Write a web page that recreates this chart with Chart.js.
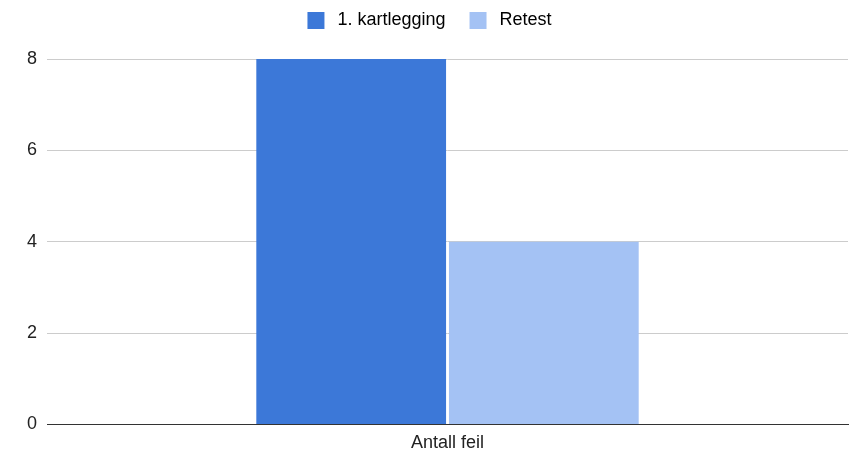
<!DOCTYPE html>
<html>
<head>
<meta charset="utf-8">
<script src="https://cdn.jsdelivr.net/npm/chart.js@4/dist/chart.umd.min.js"></script>
<style>
  html, body { margin: 0; padding: 0; background: #fff; }
  #wrap { width: 854px; height: 454px; }
</style>
</head>
<body>
<div id="wrap"><canvas id="chart" width="854" height="454"></canvas></div>
<script>
// Number of errors, first survey vs. retest
const categories = ['Antall feil'];
const kartlegging = [8];
const retest = [4];
const yTicks = [0, 2, 4, 6, 8];

Chart.defaults.font.family = '"Liberation Sans", Arial, sans-serif';
Chart.defaults.color = '#222';

// Extra space below the legend, and centre it on the canvas
const legendGap = {
  id: 'legendGap',
  beforeInit(chart) {
    const fit = chart.legend.fit;
    chart.legend.fit = function () {
      fit.call(this);
      this.height += 16;
    };
  },
  afterLayout(chart) {
    const lg = chart.legend;
    lg.left -= 5;
    lg.right -= 5;
    lg.adjustHitBoxes();
  }
};

new Chart(document.getElementById('chart'), {
  type: 'bar',
  data: {
    labels: categories,
    datasets: [
      { label: '1. kartlegging', data: kartlegging, backgroundColor: '#3c78d8',
        barPercentage: 0.985, categoryPercentage: 0.481 },
      { label: 'Retest', data: retest, backgroundColor: '#a4c2f4',
        barPercentage: 0.985, categoryPercentage: 0.481 }
    ]
  },
  options: {
    responsive: false,
    animation: false,
    layout: { padding: { left: 17, right: 6, top: -12, bottom: -8 } },
    plugins: {
      legend: {
        position: 'top',
        labels: {
          boxWidth: 25, boxHeight: 25, padding: 20, font: { size: 18 }, color: '#222',
          // white outline trims the swatch to a 17px square and widens the text gap
          generateLabels(chart) {
            return chart.data.datasets.map((ds, i) => ({
              text: ds.label,
              fillStyle: ds.backgroundColor,
              strokeStyle: '#ffffff',
              lineWidth: 8,
              hidden: !chart.isDatasetVisible(i),
              datasetIndex: i
            }));
          }
        }
      },
      tooltip: { enabled: false }
    },
    scales: {
      x: {
        grid: { display: false, drawTicks: false },
        border: { display: true, color: '#333', width: 1 },
        ticks: { font: { size: 18 }, padding: 8, color: '#222' }
      },
      y: {
        min: 0, max: 8,
        afterBuildTicks: (axis) => { axis.ticks = yTicks.map(v => ({ value: v })); },
        grid: { color: '#cccccc', drawTicks: false },
        border: { display: false },
        ticks: { font: { size: 18 }, padding: 10, color: '#222' }
      }
    }
  },
  plugins: [legendGap]
});
</script>
</body>
</html>
